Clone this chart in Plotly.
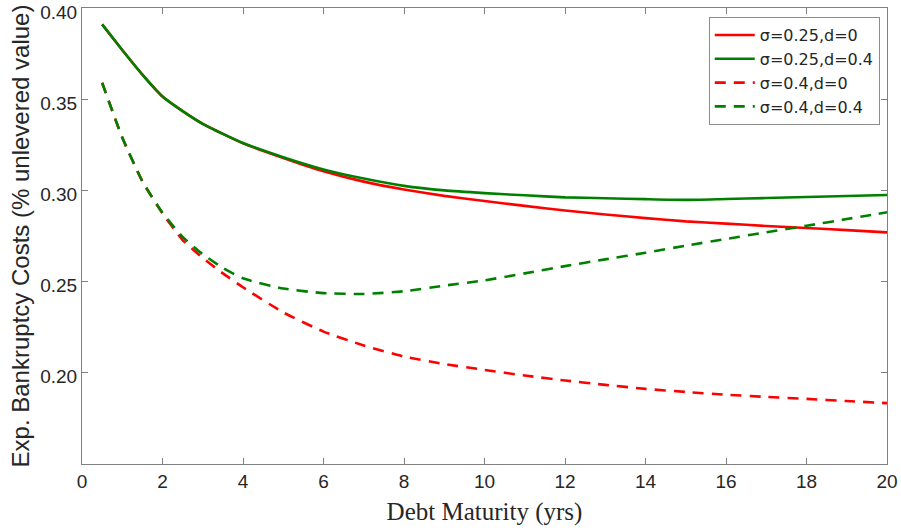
import plotly.graph_objects as go

maturity = [0.5, 1, 1.5, 2, 2.5, 3, 3.5, 4, 5, 6, 7, 8, 9, 10, 11, 12, 13, 14, 15, 16, 17, 18, 19, 20]

s025_d0 = [0.391, 0.377, 0.3635, 0.3515, 0.3435, 0.3365, 0.3310, 0.3258, 0.3178, 0.3105, 0.3048, 0.3005,
           0.2970, 0.2942, 0.2915, 0.2890, 0.2868, 0.2848, 0.2830, 0.2818, 0.2805, 0.2794, 0.2782, 0.2770]
s025_d04 = [0.391, 0.377, 0.3635, 0.3515, 0.3435, 0.3365, 0.3310, 0.3260, 0.3182, 0.3115, 0.3065, 0.3025,
            0.3000, 0.2985, 0.2973, 0.2962, 0.2957, 0.2952, 0.2948, 0.2953, 0.2958, 0.2964, 0.2969, 0.2975]
s04_d0 = [0.359, 0.329, 0.305, 0.2874, 0.2728, 0.2630, 0.2545, 0.2469, 0.2331, 0.2226, 0.2150, 0.2089,
          0.2048, 0.2016, 0.1985, 0.1958, 0.1934, 0.1912, 0.1895, 0.1880, 0.1868, 0.1857, 0.1845, 0.1834]
s04_d04 = [0.359, 0.329, 0.305, 0.2878, 0.2745, 0.2650, 0.2575, 0.2518, 0.2462, 0.2437, 0.2432, 0.2447,
           0.2478, 0.2507, 0.2545, 0.2585, 0.2622, 0.2658, 0.2697, 0.2734, 0.2770, 0.2806, 0.2843, 0.2880]

names = ["σ=0.25,d=0", "σ=0.25,d=0.4", "σ=0.4,d=0", "σ=0.4,d=0.4"]
colors = ["#FF0000", "#008000", "#FF0000", "#008000"]
dashes = ["solid", "solid", "11px,8px", "11px,8px"]
series = [s025_d0, s025_d04, s04_d0, s04_d04]

xticks = [0, 2, 4, 6, 8, 10, 12, 14, 16, 18, 20]
yticks = [0.20, 0.25, 0.30, 0.35, 0.40]

fig = go.Figure()
for name, ys, c, d in zip(names, series, colors, dashes):
    fig.add_trace(go.Scatter(x=maturity, y=ys, mode="lines", name=name,
                             line=dict(color=c, width=2.6, dash=d, shape="spline", smoothing=0.5)))

axis_common = dict(showgrid=False, zeroline=False, showline=True, linecolor="#808080", linewidth=1,
                   mirror="ticks", ticks="inside", ticklen=6, tickcolor="#808080", tickwidth=1,
                   automargin=False, ticklabeloverflow="allow",
                   tickfont=dict(family="Liberation Sans, Arial", size=19, color="#262626"))

fig.update_layout(
    width=901, height=531,
    margin=dict(l=82, r=14, t=8, b=67),
    plot_bgcolor="white", paper_bgcolor="white",
    xaxis=dict(range=[0, 20], tickvals=xticks, ticktext=[str(v) for v in xticks],
               title=dict(text="Debt Maturity (yrs)", standoff=11,
                          font=dict(family="Liberation Serif, Times New Roman", size=25, color="#262626")),
               **axis_common),
    yaxis=dict(range=[0.15, 0.40], tickvals=yticks, ticktext=[f"{v:.2f}" for v in yticks],
               ticklabelshift=4,
               title=dict(text="Exp. Bankruptcy Costs (% unlevered value)", standoff=3,
                          font=dict(family="Liberation Sans, Arial", size=24, color="#262626")),
               **axis_common),
    legend=dict(x=0.991, y=0.98, xanchor="right", yanchor="top",
                bgcolor="white", bordercolor="#8c8c8c", borderwidth=1,
                font=dict(family="DejaVu Sans", size=16, color="#262626"),
                tracegroupgap=0, itemwidth=40),
    showlegend=True,
)

fig.write_html("out.html", config={"displayModeBar": False},
               post_script="document.body.style.margin='0';")
